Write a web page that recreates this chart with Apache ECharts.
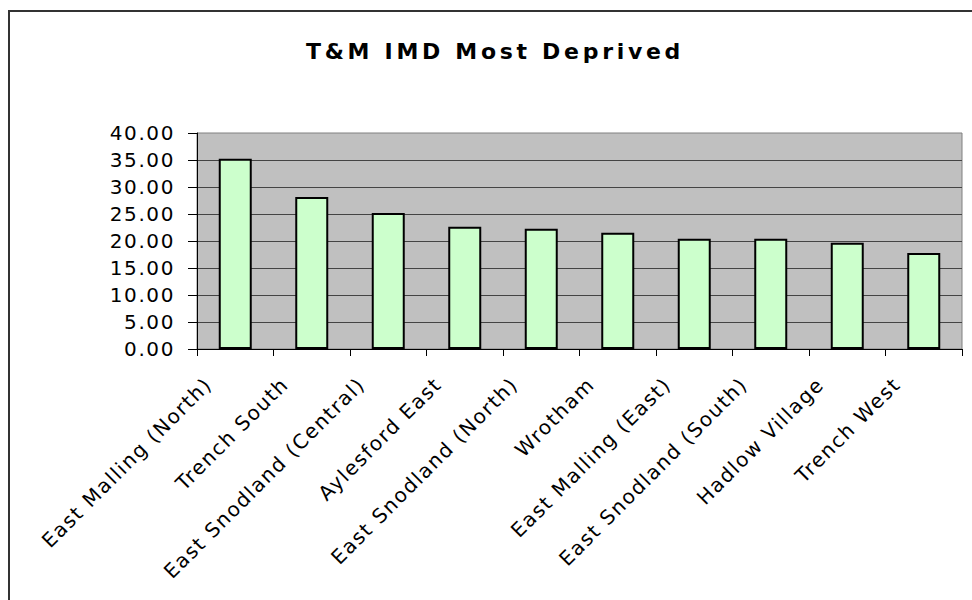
<!DOCTYPE html>
<html>
<head>
<meta charset="utf-8">
<title>T&amp;M IMD Most Deprived</title>
<script src="https://cdn.jsdelivr.net/npm/echarts@6/dist/echarts.min.js"></script>
<style>
  html, body { margin: 0; padding: 0; background: #fff; }
  #main { width: 972px; height: 600px; }
  /* Excel-style loose letter spacing */
  #main text { letter-spacing: 1.6px; }
  #main text[style*="bold"] { letter-spacing: 3.7px; }
</style>
</head>
<body>
<div id="main"></div>
<script>
  // ward names and IMD scores
  var categories = [
    'East Malling (North)', 'Trench South', 'East Snodland (Central)', 'Aylesford East',
    'East Snodland (North)', 'Wrotham', 'East Malling (East)', 'East Snodland (South)',
    'Hadlow Village', 'Trench West'
  ];
  var scores = [35.24, 28.15, 25.19, 22.65, 22.28, 21.54, 20.43, 20.43, 19.69, 17.78];
  var yMin = 0, yMax = 40, yStep = 5;

  var font = '"DejaVu Sans", Arial, sans-serif';
  var chart = echarts.init(document.getElementById('main'), null, { renderer: 'svg' });

  var option = {
    animation: false,
    backgroundColor: '#fff',
    title: {
      text: 'T&M IMD Most Deprived',
      left: 306,
      top: 40,
      padding: 0,
      textStyle: { fontFamily: font, fontSize: 22, fontWeight: 'bold', color: '#000' }
    },
    graphic: [{
      type: 'rect',
      shape: { x: 9, y: 11, width: 1000, height: 1000 },
      style: { fill: 'none', stroke: '#333', lineWidth: 2 },
      silent: true
    }],
    grid: {
      left: 197, right: 10, top: 133, bottom: 251,
      show: true,
      backgroundColor: '#c0c0c0',
      borderColor: '#808080',
      borderWidth: 1
    },
    xAxis: {
      type: 'category',
      data: categories,
      axisLine: { lineStyle: { color: '#000', width: 1 } },
      axisTick: { show: true, length: 7, lineStyle: { color: '#000' } },
      axisLabel: {
        interval: 0,
        rotate: 45,
        margin: 5,
        padding: [0, 38, 0, 0],
        fontFamily: font,
        fontSize: 20,
        color: '#000'
      }
    },
    yAxis: {
      type: 'value',
      min: yMin,
      max: yMax,
      interval: yStep,
      axisLine: { show: true, lineStyle: { color: '#000', width: 1 } },
      axisTick: { show: true, length: 9, lineStyle: { color: '#000' } },
      splitLine: { show: true, showMaxLine: false, lineStyle: { color: '#444', width: 1 } },
      axisLabel: {
        margin: 22,
        fontFamily: font,
        fontSize: 20,
        color: '#000',
        formatter: function (v) { return v.toFixed(2); }
      }
    },
    series: [{
      type: 'bar',
      data: scores,
      barWidth: 33,
      itemStyle: { color: '#ccffcc', borderColor: '#000', borderWidth: 2 }
    }]
  };

  chart.setOption(option);
</script>
</body>
</html>
